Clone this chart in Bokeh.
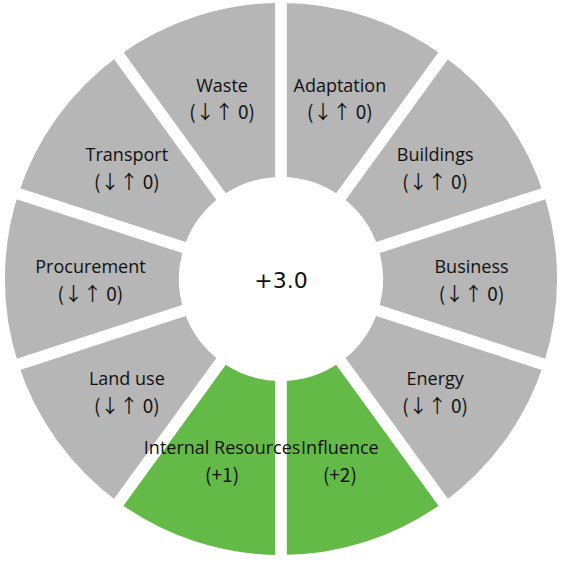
import math
from bokeh.plotting import figure
from bokeh.models import Range1d
from bokeh.core.properties import value
from bokeh.embed import file_html
from bokeh.resources import INLINE

# ---- data ----
categories = ["Adaptation", "Buildings", "Business", "Energy", "Influence",
              "Internal Resources", "Land use", "Procurement", "Transport", "Waste"]
scores = [0, 0, 0, 0, 2, 1, 0, 0, 0, 0]

def score_label(s):
    return "(↓↑ 0)" if s == 0 else "(%+d)" % s

score_labels = [score_label(s) for s in scores]
total_label = "%+.1f" % sum(scores)

# ---- style ----
GRAY = "#B6B6B6"
GREEN = "#63BA47"
colors = [GREEN if s > 0 else GRAY for s in scores]

CX, CY = 288.5, -286.5
R_OUT, R_IN = 284, 105
R_LBL = 196
n = len(categories)
step = 2 * math.pi / n

starts = [math.pi / 2 - (i + 1) * step for i in range(n)]
ends = [math.pi / 2 - i * step for i in range(n)]
mids = [(a + b) / 2 for a, b in zip(starts, ends)]

p = figure(width=559, height=558, output_backend="svg", toolbar_location=None,
           x_range=Range1d(0, 575), y_range=Range1d(-574, 0),
           x_axis_type=None, y_axis_type=None, min_border=0,
           background_fill_color="white", border_fill_color="white")
p.outline_line_color = None
p.grid.visible = False

p.annular_wedge(x=[CX] * n, y=[CY] * n, inner_radius=R_IN, outer_radius=R_OUT,
                start_angle=starts, end_angle=ends, fill_color=colors,
                line_color=None)

# white gaps between segments
bx0 = [CX + (R_IN - 5) * math.cos(a) for a in ends]
by0 = [CY + (R_IN - 5) * math.sin(a) for a in ends]
bx1 = [CX + (R_OUT + 10) * math.cos(a) for a in ends]
by1 = [CY + (R_OUT + 10) * math.sin(a) for a in ends]
p.segment(x0=bx0, y0=by0, x1=bx1, y1=by1, line_color="white", line_width=11.7,
          line_cap="butt")

lx = [CX + R_LBL * math.cos(m) for m in mids]
ly = [CY + R_LBL * math.sin(m) for m in mids]
p.text(x=lx, y=[y + 13.5 for y in ly], text=categories, text_align="center",
       text_baseline="middle", text_font=value("Open Sans"),
       text_font_size="18px", text_color="#111111")
p.text(x=lx, y=[y - 13.5 for y in ly], text=score_labels, text_align="center",
       text_baseline="middle", text_font=value("Noto Sans CJK JP"),
       text_font_size="19px", text_color="#111111")

p.text(x=[CX], y=[CY - 1.5], text=[total_label], text_align="center",
       text_baseline="middle", text_font=value("DejaVu Sans"),
       text_font_size="22px", text_color="#111111")

open("out.html", "w").write(file_html(p, INLINE))
